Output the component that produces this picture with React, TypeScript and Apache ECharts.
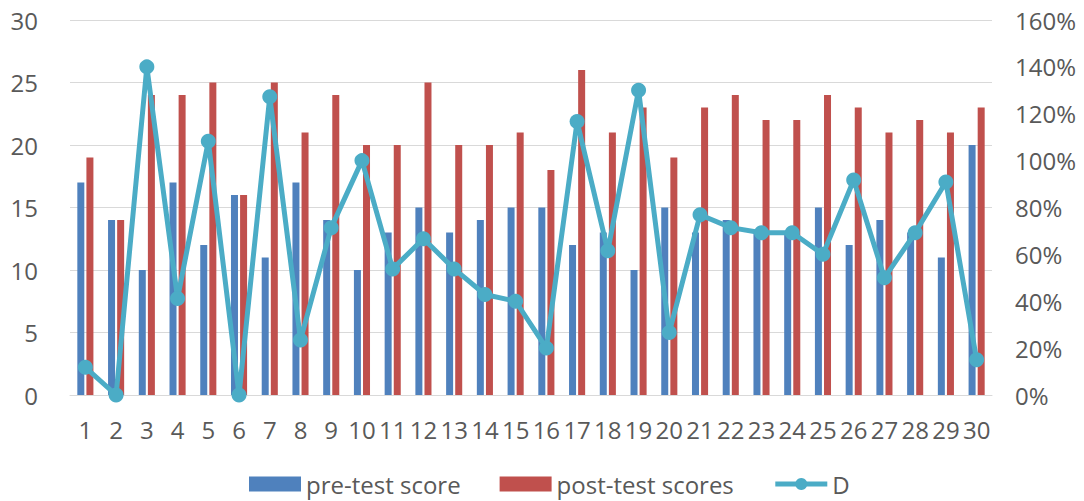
import React, { useEffect, useRef } from "react";
import * as echarts from "echarts";

const categories = ["1","2","3","4","5","6","7","8","9","10","11","12","13","14","15","16","17","18","19","20","21","22","23","24","25","26","27","28","29","30"];
const preTest = [17,14,10,17,12,16,11,17,14,10,13,15,13,14,15,15,12,13,10,15,13,14,13,13,15,12,14,13,11,20];
const postTest = [19,14,24,24,25,16,25,21,24,20,20,25,20,20,21,18,26,21,23,19,23,24,22,22,24,23,21,22,21,23];
const dValues = [0.118,0,1.4,0.412,1.083,0,1.273,0.235,0.714,1.0,0.538,0.667,0.538,0.429,0.4,0.2,1.167,0.615,1.3,0.267,0.769,0.714,0.692,0.692,0.6,0.917,0.5,0.692,0.909,0.15];
const leftTicks = { min: 0, max: 30, interval: 5 };
const rightTicks = { min: 0, max: 1.6, interval: 0.2 };

const FONT = "'Open Sans', 'Noto Sans', sans-serif";

export default function App() {
  const ref = useRef<HTMLDivElement>(null);
  useEffect(() => {
    if (!ref.current) return;
    const chart = echarts.init(ref.current, null, { renderer: "svg" });
    chart.setOption({
      animation: false,
      backgroundColor: "#ffffff",
      textStyle: { fontFamily: FONT },
      grid: { left: 70, right: 92, top: 20, bottom: 106 },
      legend: {
        left: 249,
        top: 472,
        padding: 0,
        itemWidth: 52,
        itemHeight: 15,
        itemGap: 39,
        textStyle: { fontSize: 24, color: "#595959", fontFamily: FONT },
        data: [
          { name: "pre-test score", icon: "rect" },
          { name: "post-test scores", icon: "rect" },
          { name: "D", lineStyle: { width: 5, color: "#4bacc6" } },
        ],
      },
      xAxis: {
        type: "category",
        data: categories,
        axisLine: { lineStyle: { color: "#d9d9d9", width: 1 } },
        axisTick: { show: false },
        axisLabel: { color: "#595959", fontSize: 24, margin: 22, interval: 0, fontFamily: FONT },
      },
      yAxis: [
        {
          type: "value",
          ...leftTicks,
          axisLine: { show: false },
          axisTick: { show: false },
          splitLine: { lineStyle: { color: "#d9d9d9", width: 1 } },
          axisLabel: { color: "#595959", fontSize: 24, margin: 32, fontFamily: FONT },
        },
        {
          type: "value",
          ...rightTicks,
          axisLine: { show: false },
          axisTick: { show: false },
          splitLine: { show: false },
          axisLabel: {
            color: "#595959",
            fontSize: 24,
            margin: 23,
            fontFamily: FONT,
            formatter: (v: number) => Math.round(v * 100) + "%",
          },
        },
      ],
      series: [
        {
          name: "pre-test score",
          type: "bar",
          data: preTest,
          barWidth: 7,
          barGap: "30%",
          itemStyle: { color: "#4f81bd" },
        },
        {
          name: "post-test scores",
          type: "bar",
          data: postTest,
          barWidth: 7,
          barGap: "30%",
          itemStyle: { color: "#c0504d" },
        },
        {
          name: "D",
          type: "line",
          yAxisIndex: 1,
          data: dValues,
          symbol: "circle",
          symbolSize: 15,
          lineStyle: { color: "#4bacc6", width: 5 },
          itemStyle: { color: "#4bacc6" },
        },
      ],
    });
    return () => chart.dispose();
  }, []);
  return (
    <div
      ref={ref}
      style={{ position: "fixed", left: 0, top: 0, width: 1084, height: 501 }}
    />
  );
}
